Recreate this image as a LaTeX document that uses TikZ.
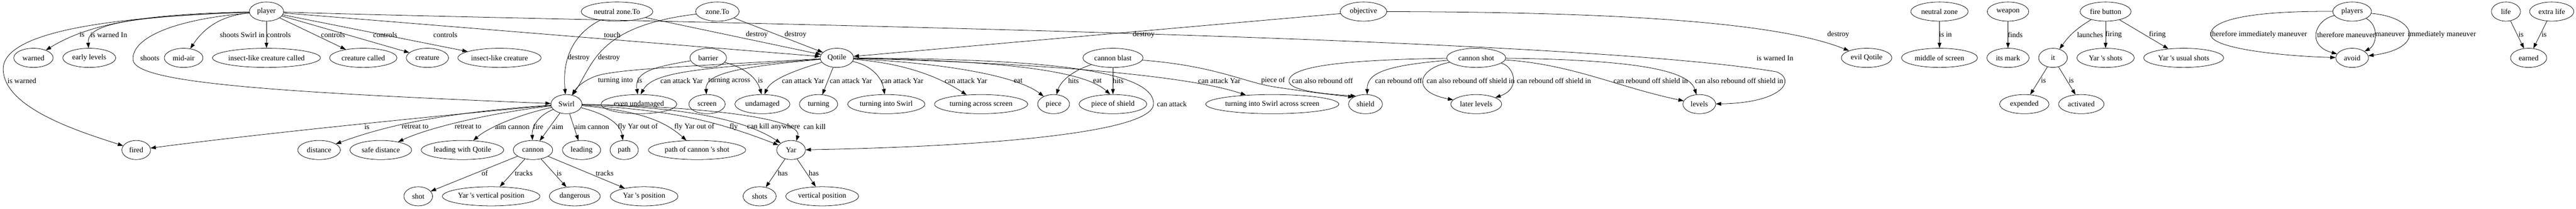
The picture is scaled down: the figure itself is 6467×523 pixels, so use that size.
\documentclass[tikz,border=0pt]{standalone}
\usepackage{fontspec}
\setmainfont{Liberation Serif}
\usetikzlibrary{shapes.geometric,arrows.meta}

\begin{document}
\begin{tikzpicture}[
				x=0.75pt, y=-0.75pt, line width=0.75pt,
				ovalnode/.style={ellipse, draw=black, minimum height=36pt, inner xsep=0pt, inner ysep=0pt, font=\fontsize{14}{16}\selectfont},
				ovalw/.style={minimum width=#1*0.75pt},
				edgelabel/.style={inner sep=0pt, font=\fontsize{14}{16}\selectfont},
				>={Triangle[length=10pt, width=7pt]},
				]
				\useasboundingbox (0,0) rectangle (6467,523);
				%Nodes
				\node[ovalnode, ovalw=86] (player) at (669,29) {player};
				\node[ovalnode, ovalw=180] (nzto) at (1549,29) {neutral zone.To};
				\node[ovalnode, ovalw=109] (zoneto) at (1801,29) {zone.To};
				\node[ovalnode, ovalw=117] (objective) at (3423,29) {objective};
				\node[ovalnode, ovalw=144] (nzone) at (4869,29) {neutral zone};
				\node[ovalnode, ovalw=104] (weapon) at (5041,29) {weapon};
				\node[ovalnode, ovalw=128] (firebtn) at (5286,29) {fire button};
				\node[ovalnode, ovalw=97] (players) at (5905,29) {players};
				\node[ovalnode, ovalw=73] (life) at (6291,29) {life};
				\node[ovalnode, ovalw=111] (extralife) at (6406,29) {extra life};
				
				\node[ovalnode, ovalw=99] (warned) at (84,145) {warned};
				\node[ovalnode, ovalw=133] (earlylev) at (224,145) {early levels};
				\node[ovalnode, ovalw=97] (midair) at (461,145) {mid-air};
				\node[ovalnode, ovalw=270] (icc) at (669,145) {insect-like creature called};
				\node[ovalnode, ovalw=169] (ccalled) at (912,145) {creature called};
				\node[ovalnode, ovalw=106] (creature) at (1073,145) {creature};
				\node[ovalnode, ovalw=209] (insect) at (1254,145) {insect-like creature};
				\node[ovalnode, ovalw=92] (barrier) at (1778,145) {barrier};
				\node[ovalnode, ovalw=84] (qotile) at (2101,145) {Qotile};
				\node[ovalnode, ovalw=151] (blast) at (2794,145) {cannon blast};
				\node[ovalnode, ovalw=148] (cshot) at (3706,145) {cannon shot};
				\node[ovalnode, ovalw=127] (evilq) at (4686,145) {evil Qotile};
				\node[ovalnode, ovalw=191] (middle) at (4869,145) {middle of screen};
				\node[ovalnode, ovalw=106] (mark) at (5041,145) {its mark};
				\node[ovalnode, ovalw=72] (it) at (5154,145) {it};
				\node[ovalnode, ovalw=144] (yshots) at (5286,145) {Yar \textquotesingle s shots};
				\node[ovalnode, ovalw=201] (yusual) at (5482,145) {Yar \textquotesingle s usual shots};
				\node[ovalnode, ovalw=82] (avoid) at (5905,145) {avoid};
				\node[ovalnode, ovalw=91] (earned) at (6348,145) {earned};
				
				\node[ovalnode, ovalw=78] (swirl) at (1422,261) {Swirl};
				\node[ovalnode, ovalw=190] (evenund) at (1604,261) {even undamaged};
				\node[ovalnode, ovalw=91] (screen) at (1775,261) {screen};
				\node[ovalnode, ovalw=138] (undamaged) at (1914,261) {undamaged};
				\node[ovalnode, ovalw=96] (turning) at (2055,261) {turning};
				\node[ovalnode, ovalw=194] (tis) at (2225,261) {turning into Swirl};
				\node[ovalnode, ovalw=234] (tas) at (2463,261) {turning across screen};
				\node[ovalnode, ovalw=80] (piece) at (2645,261) {piece};
				\node[ovalnode, ovalw=170] (pshield) at (2794,261) {piece of shield};
				\node[ovalnode, ovalw=332] (tisas) at (3194,261) {turning into Swirl across screen};
				\node[ovalnode, ovalw=85] (shield) at (3428,261) {shield};
				\node[ovalnode, ovalw=128] (later) at (3706,261) {later levels};
				\node[ovalnode, ovalw=82] (levels) at (4266,261) {levels};
				\node[ovalnode, ovalw=124] (expended) at (5082,261) {expended};
				\node[ovalnode, ovalw=114] (activated) at (5225,261) {activated};
				
				\node[ovalnode, ovalw=72] (fired) at (342,376) {fired};
				\node[ovalnode, ovalw=107] (distance) at (801,376) {distance};
				\node[ovalnode, ovalw=155] (safedist) at (956,376) {safe distance};
				\node[ovalnode, ovalw=207] (lwq) at (1161,376) {leading with Qotile};
				\node[ovalnode, ovalw=99] (cannon) at (1338,376) {cannon};
				\node[ovalnode, ovalw=96] (leading) at (1460,376) {leading};
				\node[ovalnode, ovalw=71] (path) at (1567,376) {path};
				\node[ovalnode, ovalw=244] (pcs) at (1750,376) {path of cannon \textquotesingle s shot};
				\node[ovalnode, ovalw=72] (yar) at (1986,376) {Yar};
				
				\node[ovalnode, ovalw=72] (shot) at (1050,492) {shot};
				\node[ovalnode, ovalw=245] (yvp) at (1233,492) {Yar \textquotesingle s vertical position};
				\node[ovalnode, ovalw=128] (dangerous) at (1443,492) {dangerous};
				\node[ovalnode, ovalw=170] (ypos) at (1617,492) {Yar \textquotesingle s position};
				\node[ovalnode, ovalw=83] (shots) at (1907,492) {shots};
				\node[ovalnode, ovalw=183] (vpos) at (2064,492) {vertical position};
				
				%Lines
				\draw[->] (player) .. controls (380,35) and (230,55) .. (warned) node[edgelabel] at (206,87) {is};
				\draw[->] (player) .. controls (320,42) and (218,60) .. (earlylev) node[edgelabel] at (273,87) {is warned In};
				\draw[->] (player) .. controls (300,42) and (15,75) .. (8,170) .. controls (5,270) and (200,330) .. (fired) node[edgelabel] at (55,202) {is warned};
				\draw[->] (player) .. controls (420,50) and (330,100) .. (334,150) .. controls (338,205) and (650,230) .. (swirl) node[edgelabel] at (376,145) {shoots};
				\draw[->] (player) to[bend right=25] (midair) node[edgelabel] at (608,87) {shoots Swirl in};
				\draw[->] (player) -- (icc) node[edgelabel] at (700,87) {controls};
				\draw[->] (player) -- (ccalled) node[edgelabel] at (836,87) {controls};
				\draw[->] (player) -- (creature) node[edgelabel] at (967,87) {controls};
				\draw[->] (player) -- (insect) node[edgelabel] at (1118,87) {controls};
				\draw[->] (player) -- (qotile) node[edgelabel] at (1537,87) {touch};
				\draw[->] (player) .. controls (1500,55) and (3900,85) .. (4460,180) .. controls (4510,200) and (4475,258) .. (levels) node[edgelabel] at (4456,145) {is warned In};
				
				\draw[->] (nzto) .. controls (1430,90) and (1412,160) .. (swirl) node[edgelabel] at (1453,145) {destroy};
				\draw[->] (zoneto) .. controls (1500,65) and (1490,160) .. (swirl) node[edgelabel] at (1529,145) {destroy};
				\draw[->] (nzto) -- (qotile) node[edgelabel] at (1900,87) {destroy};
				\draw[->] (zoneto) -- (qotile) node[edgelabel] at (1997,87) {destroy};
				\draw[->] (objective) -- (qotile) node[edgelabel] at (2871,87) {destroy};
				\draw[->] (objective) .. controls (4000,30) and (4450,50) .. (evilq) node[edgelabel] at (4615,87) {destroy};
				
				\draw[->] (qotile) .. controls (1750,165) and (1570,172) .. (1505,188) .. controls (1475,196) and (1450,215) .. (swirl) node[edgelabel] at (1545,202) {turning into};
				\draw[->] (barrier) .. controls (1640,168) and (1592,180) .. (evenund.97) node[edgelabel] at (1606,202) {is};
				\draw[->] (qotile) .. controls (1750,172) and (1640,180) .. (evenund.80) node[edgelabel] at (1711,202) {can attack Yar};
				\draw[->] (qotile) .. controls (1850,168) and (1770,185) .. (screen) node[edgelabel] at (1831,202) {turning across};
				\draw[->] (barrier) .. controls (1870,170) and (1900,195) .. (undamaged.95) node[edgelabel] at (1909,202) {is};
				\draw[->] (qotile) .. controls (1990,178) and (1935,200) .. (undamaged.78) node[edgelabel] at (2016,202) {can attack Yar};
				\draw[->] (qotile) -- (turning) node[edgelabel] at (2136,202) {can attack Yar};
				\draw[->] (qotile) .. controls (2190,165) and (2214,195) .. (tis) node[edgelabel] at (2265,202) {can attack Yar};
				\draw[->] (qotile) .. controls (2280,160) and (2360,195) .. (tas) node[edgelabel] at (2425,202) {can attack Yar};
				\draw[->] (qotile) .. controls (2400,160) and (2560,195) .. (piece) node[edgelabel] at (2556,202) {eat};
				\draw[->] (qotile) .. controls (2500,152) and (2720,175) .. (pshield.106) node[edgelabel] at (2755,202) {eat};
				\draw[->] (qotile) .. controls (2600,158) and (2980,188) .. (tisas) node[edgelabel] at (3061,202) {can attack Yar};
				\draw[->] (qotile) .. controls (2500,148) and (2896,160) .. (2896,260) .. controls (2896,335) and (2450,368) .. (yar) node[edgelabel] at (2942,261) {can attack};
				
				\draw[->] (blast) .. controls (2690,178) and (2662,205) .. (piece) node[edgelabel] at (2695,202) {hits};
				\draw[->] (blast) -- (pshield) node[edgelabel] at (2807,202) {hits};
				\draw[->] (blast) .. controls (3050,165) and (3120,205) .. (3200,218) .. controls (3280,230) and (3350,238) .. (shield.150) node[edgelabel] at (3196,202) {piece of};
				
				\draw[->] (cshot) .. controls (3380,150) and (3232,165) .. (3236,205) .. controls (3240,228) and (3330,236) .. (shield.140) node[edgelabel] at (3320,202) {can also rebound off};
				\draw[->] (cshot) .. controls (3470,165) and (3432,185) .. (shield.80) node[edgelabel] at (3511,202) {can rebound off};
				\draw[->] (cshot) .. controls (3560,170) and (3540,230) .. (later) node[edgelabel] at (3692,202) {can also rebound off shield in};
				\draw[->] (cshot) .. controls (3800,165) and (3820,222) .. (later) node[edgelabel] at (3901,202) {can rebound off shield in};
				\draw[->] (cshot) .. controls (3950,162) and (4060,218) .. (levels) node[edgelabel] at (4144,202) {can rebound off shield in};
				\draw[->] (cshot) .. controls (4100,150) and (4240,175) .. (levels) node[edgelabel] at (4366,202) {can also rebound off shield in};
				
				\draw[->] (swirl) .. controls (1150,285) and (650,335) .. (fired) node[edgelabel] at (921,318) {is};
				\draw[->] (swirl) .. controls (1100,283) and (960,318) .. (distance) node[edgelabel] at (1042,318) {retreat to};
				\draw[->] (swirl) .. controls (1240,282) and (1080,318) .. (safedist) node[edgelabel] at (1175,318) {retreat to};
				\draw[->] (swirl) .. controls (1300,288) and (1225,320) .. (lwq) node[edgelabel] at (1286,318) {aim cannon};
				\draw[->] (swirl) .. controls (1350,290) and (1335,318) .. (cannon) node[edgelabel] at (1351,318) {fire};
				\draw[->] (swirl) -- (cannon) node[edgelabel] at (1400,318) {aim};
				\draw[->] (swirl) -- (leading) node[edgelabel] at (1486,318) {aim cannon};
				\draw[->] (swirl) .. controls (1520,285) and (1558,310) .. (path) node[edgelabel] at (1601,318) {fly Yar out of};
				\draw[->] (swirl) .. controls (1600,278) and (1665,300) .. (pcs) node[edgelabel] at (1743,318) {fly Yar out of};
				\draw[->] (swirl) .. controls (1680,276) and (1790,300) .. (yar) node[edgelabel] at (1842,318) {fly};
				\draw[->] (swirl) .. controls (1720,268) and (1870,300) .. (yar) node[edgelabel] at (1942,318) {can kill anywhere};
				\draw[->] (swirl) .. controls (1800,268) and (2015,300) .. (yar.60) node[edgelabel] at (2045,318) {can kill};
				
				\draw[->] (cannon) -- (shot) node[edgelabel] at (1217,434) {of};
				\draw[->] (cannon) -- (yvp) node[edgelabel] at (1315,434) {tracks};
				\draw[->] (cannon) -- (dangerous) node[edgelabel] at (1404,434) {is};
				\draw[->] (cannon) -- (ypos) node[edgelabel] at (1518,434) {tracks};
				\draw[->] (yar) -- (shots) node[edgelabel] at (1965,434) {has};
				\draw[->] (yar) -- (vpos) node[edgelabel] at (2043,434) {has};
				
				\draw[->] (nzone) -- (middle) node[edgelabel] at (4884,87) {is in};
				\draw[->] (weapon) -- (mark) node[edgelabel] at (5059,87) {finds};
				\draw[->] (firebtn) to[bend right=12] (it) node[edgelabel] at (5247,87) {launches};
				\draw[->] (firebtn) -- (yshots) node[edgelabel] at (5306,87) {firing};
				\draw[->] (firebtn) -- (yusual) node[edgelabel] at (5416,87) {firing};
				\draw[->] (it) -- (expended) node[edgelabel] at (5130,202) {is};
				\draw[->] (it) -- (activated) node[edgelabel] at (5200,202) {is};
				
				\draw[->] (players) .. controls (5650,27) and (5548,50) .. (5550,87) .. controls (5552,125) and (5760,142) .. (avoid) node[edgelabel] at (5670,87) {therefore immediately maneuver};
				\draw[->] (players) .. controls (5810,50) and (5790,115) .. (avoid) node[edgelabel] at (5890,87) {therefore maneuver};
				\draw[->] (players) .. controls (5972,62) and (5968,112) .. (avoid) node[edgelabel] at (6000,87) {maneuver};
				\draw[->] (players) .. controls (6075,45) and (6085,122) .. (avoid) node[edgelabel] at (6130,87) {immediately maneuver};
				\draw[->] (life) -- (earned) node[edgelabel] at (6329,87) {is};
				\draw[->] (extralife) -- (earned) node[edgelabel] at (6387,87) {is};
				
			\end{tikzpicture}
\end{document}
